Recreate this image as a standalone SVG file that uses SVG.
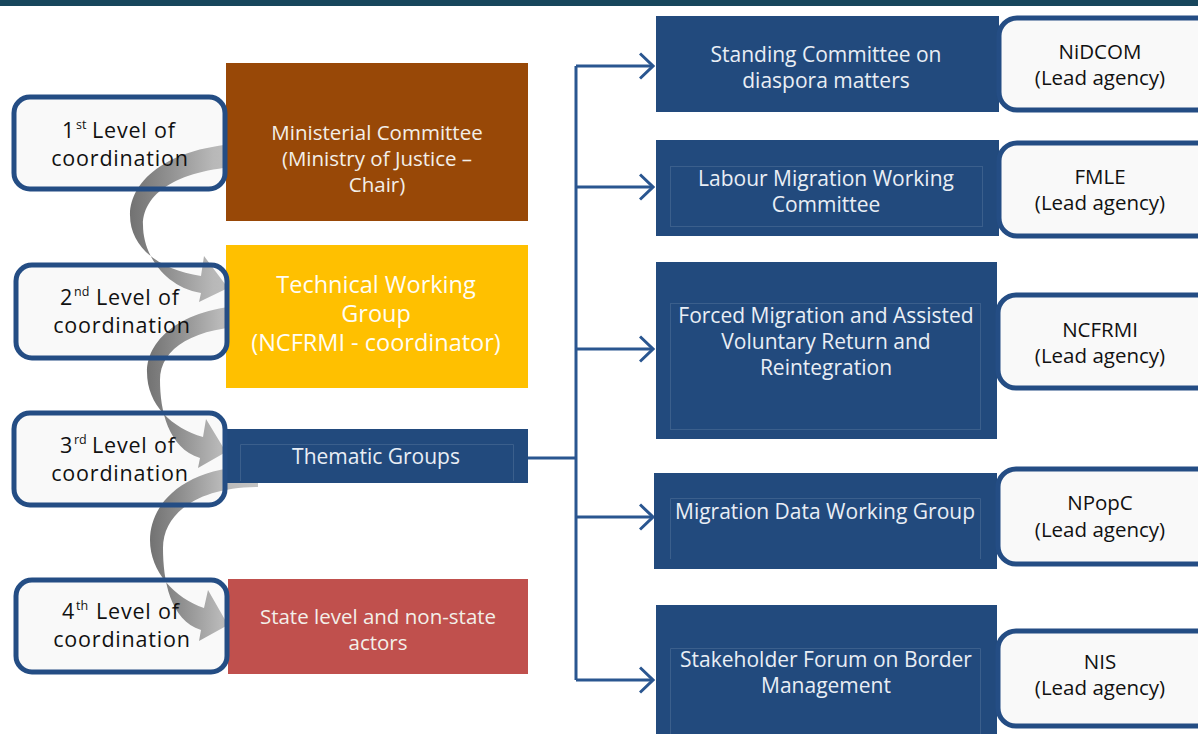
<svg xmlns="http://www.w3.org/2000/svg" width="1198" height="734" viewBox="0 0 1198 734">
<defs>
<style>
.lvlbg{fill:#f9f9f9;stroke:none}
.lvl{fill:none;stroke:#244d84;stroke-width:5}
.lead{fill:#f9f9f9;stroke:#244d84;stroke-width:5}
.lt{font-family:"Open Sans",sans-serif;font-size:21.5px;letter-spacing:0.8px;fill:#111;text-anchor:middle}
.ls{font-family:"Open Sans",sans-serif;font-size:21.5px;letter-spacing:0.8px;fill:#111}
.sup{font-family:"Open Sans",sans-serif;font-size:12.5px;fill:#111}
.wt{font-family:"Open Sans",sans-serif;font-size:20.5px;fill:#f3efe9;text-anchor:middle}
.rt{font-family:"Open Sans",sans-serif;font-size:21px;fill:#e9eef5;text-anchor:middle}
.ld{font-family:"Open Sans",sans-serif;font-size:20.5px;fill:#111;text-anchor:middle}
.blue{fill:#224a7d}
.inner{fill:none;stroke:#3b5f8c;stroke-width:1}
.con{fill:none;stroke:#2a5690;stroke-width:3}
.arr{fill:url(#g)}
</style>
<linearGradient id="g" x1="0" y1="0" x2="1" y2="0">
<stop offset="0" stop-color="#727272"/>
<stop offset="0.3" stop-color="#909090"/>
<stop offset="0.65" stop-color="#b8b8b8"/>
<stop offset="1" stop-color="#c4c4c4"/>
</linearGradient>
<marker id="chev" markerWidth="16" markerHeight="28" refX="14" refY="14" orient="auto" markerUnits="userSpaceOnUse">
<path d="M1 1.5 L14 14 L1 26.5" fill="none" stroke="#2a5690" stroke-width="3"/>
</marker>
</defs>
<rect x="0" y="0" width="1198" height="6" fill="#17465c"/>
<g id="level-backgrounds">
<rect class="lvlbg" x="14" y="97" width="211" height="92" rx="16"/>
<rect class="lvlbg" x="16" y="265" width="211" height="93" rx="16"/>
<rect class="lvlbg" x="14" y="413" width="211" height="92" rx="16"/>
<rect class="lvlbg" x="16" y="580" width="211" height="92" rx="16"/>
</g>
<g id="level-arrows">
<path class="arr" d="M258 143 C170 143 130 180 130 215 C130 248 160 270 201 276 L204 256 L228 288 L199 302 L201 293 C165 287 143 255 143 225 C143 190 185 166 258 166 Z"/>
<path class="arr" d="M258 305 C185 305 147 338 147 372 C147 405 172 428 203 437 L206 419 L226 452 L198 468 L200 458 C168 448 160 410 160 380 C160 348 195 326 258 326 Z"/>
<path class="arr" d="M258 466 C185 466 150 503 150 540 C150 572 175 598 204 608 L208 590 L228 625 L199 641 L201 630 C170 620 163 580 163 548 C163 512 200 487 258 487 Z"/>
</g>
<g id="ministerial">
<rect x="226" y="63" width="302" height="158" fill="#984807"/>
<text class="wt" x="377" y="140">Ministerial Committee</text>
<text class="wt" x="377" y="166">(Ministry of Justice –</text>
<text class="wt" x="377" y="192">Chair)</text>
</g>
<g id="technical">
<rect x="226" y="245" width="302" height="143" fill="#ffc000"/>
<text class="wt" x="376" y="293" style="font-size:23.5px;fill:#fffdf5">Technical Working</text>
<text class="wt" x="376" y="322" style="font-size:23.5px;fill:#fffdf5">Group</text>
<text class="wt" x="376" y="351" style="font-size:23.5px;fill:#fffdf5">(NCFRMI - coordinator)</text>
</g>
<g id="thematic">
<rect class="blue" x="226" y="429" width="302" height="54"/>
<path class="inner" d="M240.5 481 V444.5 H513.5 V481"/>
<text class="rt" x="376" y="464">Thematic Groups</text>
</g>
<g id="state">
<rect x="228" y="579" width="300" height="95" fill="#c0504d"/>
<text class="wt" x="378" y="624">State level and non-state</text>
<text class="wt" x="378" y="650">actors</text>
</g>
<g id="level1">
<rect class="lvl" x="14" y="97" width="211" height="92" rx="16"/>
<text class="ls" x="62" y="138">1</text>
<text class="sup" x="76" y="129">st</text>
<text class="ls" x="92" y="138">Level of</text>
<text class="lt" x="120" y="166">coordination</text>
</g>
<g id="level2">
<rect class="lvl" x="16" y="265" width="211" height="93" rx="16"/>
<text class="ls" x="60" y="305">2</text>
<text class="sup" x="74" y="296">nd</text>
<text class="ls" x="96" y="305">Level of</text>
<text class="lt" x="122" y="333">coordination</text>
</g>
<g id="level3">
<rect class="lvl" x="14" y="413" width="211" height="92" rx="16"/>
<text class="ls" x="60" y="453">3</text>
<text class="sup" x="74" y="444">rd</text>
<text class="ls" x="92" y="453">Level of</text>
<text class="lt" x="120" y="481">coordination</text>
</g>
<g id="level4">
<rect class="lvl" x="16" y="580" width="211" height="92" rx="16"/>
<text class="ls" x="62" y="619">4</text>
<text class="sup" x="76" y="610">th</text>
<text class="ls" x="96" y="619">Level of</text>
<text class="lt" x="122" y="647">coordination</text>
</g>
<g id="connectors">
<path class="con" d="M528 458 H576"/>
<path class="con" d="M576 66 V680"/>
<path class="con" d="M576 66 H653" marker-end="url(#chev)"/>
<path class="con" d="M576 187 H653" marker-end="url(#chev)"/>
<path class="con" d="M576 349 H653" marker-end="url(#chev)"/>
<path class="con" d="M576 517 H653" marker-end="url(#chev)"/>
<path class="con" d="M576 680 H653" marker-end="url(#chev)"/>
</g>
<g id="standing">
<rect class="blue" x="656" y="16" width="343" height="96"/>
<text class="rt" x="826" y="62">Standing Committee on</text>
<text class="rt" x="826" y="88">diaspora matters</text>
</g>
<g id="labour">
<rect class="blue" x="656" y="140" width="343" height="96"/>
<rect class="inner" x="670.5" y="166.5" width="312" height="60"/>
<text class="rt" x="826" y="186">Labour Migration Working</text>
<text class="rt" x="826" y="212">Committee</text>
</g>
<g id="forced">
<rect class="blue" x="656" y="262" width="341" height="177"/>
<rect class="inner" x="670.5" y="303.5" width="310" height="126"/>
<text class="rt" x="826" y="323">Forced Migration and Assisted</text>
<text class="rt" x="826" y="349">Voluntary Return and</text>
<text class="rt" x="826" y="375">Reintegration</text>
</g>
<g id="data">
<rect class="blue" x="654" y="473" width="343" height="96"/>
<path class="inner" d="M670.5 559 V498.5 H980.5 V559"/>
<text class="rt" x="825" y="519">Migration Data Working Group</text>
</g>
<g id="border">
<rect class="blue" x="656" y="605" width="341" height="129"/>
<path class="inner" d="M670.5 734 V648.5 H980.5 V734"/>
<text class="rt" x="826" y="667">Stakeholder Forum on Border</text>
<text class="rt" x="826" y="693">Management</text>
</g>
<g id="nidcom">
<rect class="lead" x="999" y="18" width="215" height="92" rx="18"/>
<text class="ld" x="1100" y="59">NiDCOM</text>
<text class="ld" x="1100" y="85">(Lead agency)</text>
</g>
<g id="fmle">
<rect class="lead" x="999" y="143" width="215" height="93" rx="18"/>
<text class="ld" x="1100" y="184">FMLE</text>
<text class="ld" x="1100" y="210">(Lead agency)</text>
</g>
<g id="ncfrmi">
<rect class="lead" x="998" y="295" width="216" height="93" rx="18"/>
<text class="ld" x="1100" y="337">NCFRMI</text>
<text class="ld" x="1100" y="363">(Lead agency)</text>
</g>
<g id="npopc">
<rect class="lead" x="998" y="469" width="216" height="95" rx="18"/>
<text class="ld" x="1100" y="510">NPopC</text>
<text class="ld" x="1100" y="537">(Lead agency)</text>
</g>
<g id="nis">
<rect class="lead" x="998" y="631" width="216" height="95" rx="18"/>
<text class="ld" x="1100" y="669">NIS</text>
<text class="ld" x="1100" y="695">(Lead agency)</text>
</g>
</svg>
